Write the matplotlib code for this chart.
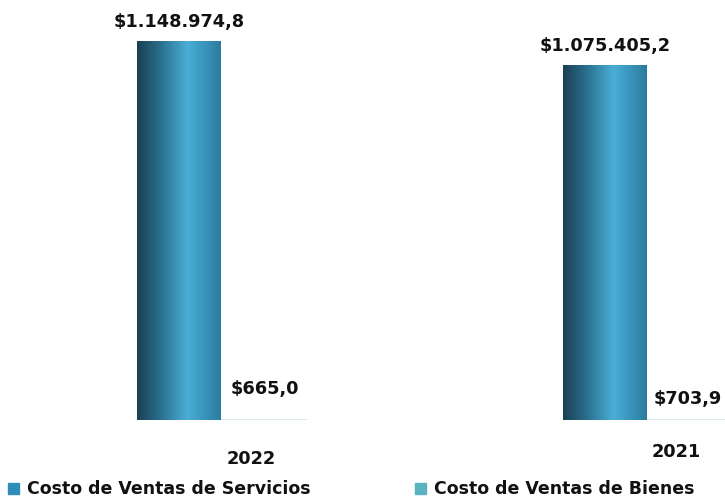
import matplotlib
matplotlib.use("Agg")
import matplotlib.pyplot as plt
import numpy as np
from matplotlib.colors import LinearSegmentedColormap

plt.rcParams['font.family'] = ['DejaVu Sans']

# data
years = ['2022', '2021']
servicios = [1148974.8, 1075405.2]
bienes = [665.0, 703.9]
serv_labels = ['$1.148.974,8', '$1.075.405,2']
bien_labels = ['$665,0', '$703,9']
legend_names = ['Costo de Ventas de Servicios', 'Costo de Ventas de Bienes']

fig = plt.figure(figsize=(7.25, 5), dpi=100)
ax = fig.add_axes([0, 0.16, 1, 0.84])

grad = LinearSegmentedColormap.from_list(
    'bar', [(0, '#1b4052'), (0.28, '#2a6f8e'), (0.6, '#4aaed6'),
            (0.8, '#3a95bd'), (1, '#2c7b9c')])
g = np.linspace(0, 1, 256).reshape(1, -1)

x = np.arange(len(years))
w = 0.197
bars = ax.bar(x - w / 2, servicios, w, color='none')
bars2 = ax.bar(x + w / 2, bienes, w, color='#5ab4c0')

for b in bars:
    x0, y0 = b.get_x(), b.get_y()
    im = ax.imshow(g, cmap=grad, aspect='auto', zorder=2,
                   extent=[x0, x0 + b.get_width(), y0, y0 + b.get_height()])
    im.set_clip_path(b)

for i in range(len(years)):
    ax.hlines(0, x[i] - w, x[i] + w * 1.03, color='#dde9ef', lw=1.5, zorder=1)

ax.set_xlim(-0.519, 1.184)
ax.set_ylim(0, 1273280)
ax.axis('off')

for i, b in enumerate(bars):
    ax.annotate(serv_labels[i], (b.get_x() + b.get_width() / 2, b.get_height()),
                xytext=(0, 7.5), textcoords='offset points', ha='center', va='bottom',
                fontsize=12.8, fontweight='bold', color='#111111')

bien_off = [15.7, 8.4]
bien_dx = [0, -2]
for i, b in enumerate(bars2):
    ax.annotate(bien_labels[i], (b.get_x() + b.get_width() / 2 + 0.005, b.get_height()),
                xytext=(bien_dx[i], bien_off[i]), textcoords='offset points', ha='center',
                va='bottom', fontsize=12.8, fontweight='bold', color='#111111')

year_off = [-21.5, -16.5]
for i, yr in enumerate(years):
    ax.annotate(yr, (x[i] + 0.07, 0), xytext=(0, year_off[i]), textcoords='offset points',
                ha='center', va='top', fontsize=12.8, fontweight='bold', color='#111111')

# legend
leg_colors = ['#2e8dbb', '#5ab4c0']
leg_x = [0.011, 0.573]
for i in range(2):
    fig.patches.append(plt.Rectangle((leg_x[i], 0.0125), 0.015, 0.022,
                                     transform=fig.transFigure, color=leg_colors[i]))
    fig.text(leg_x[i] + 0.026, 0.021, legend_names[i], fontsize=12.5,
             fontweight='bold', color='#111111', va='center', ha='left')

fig.savefig('out.png', dpi=100)
